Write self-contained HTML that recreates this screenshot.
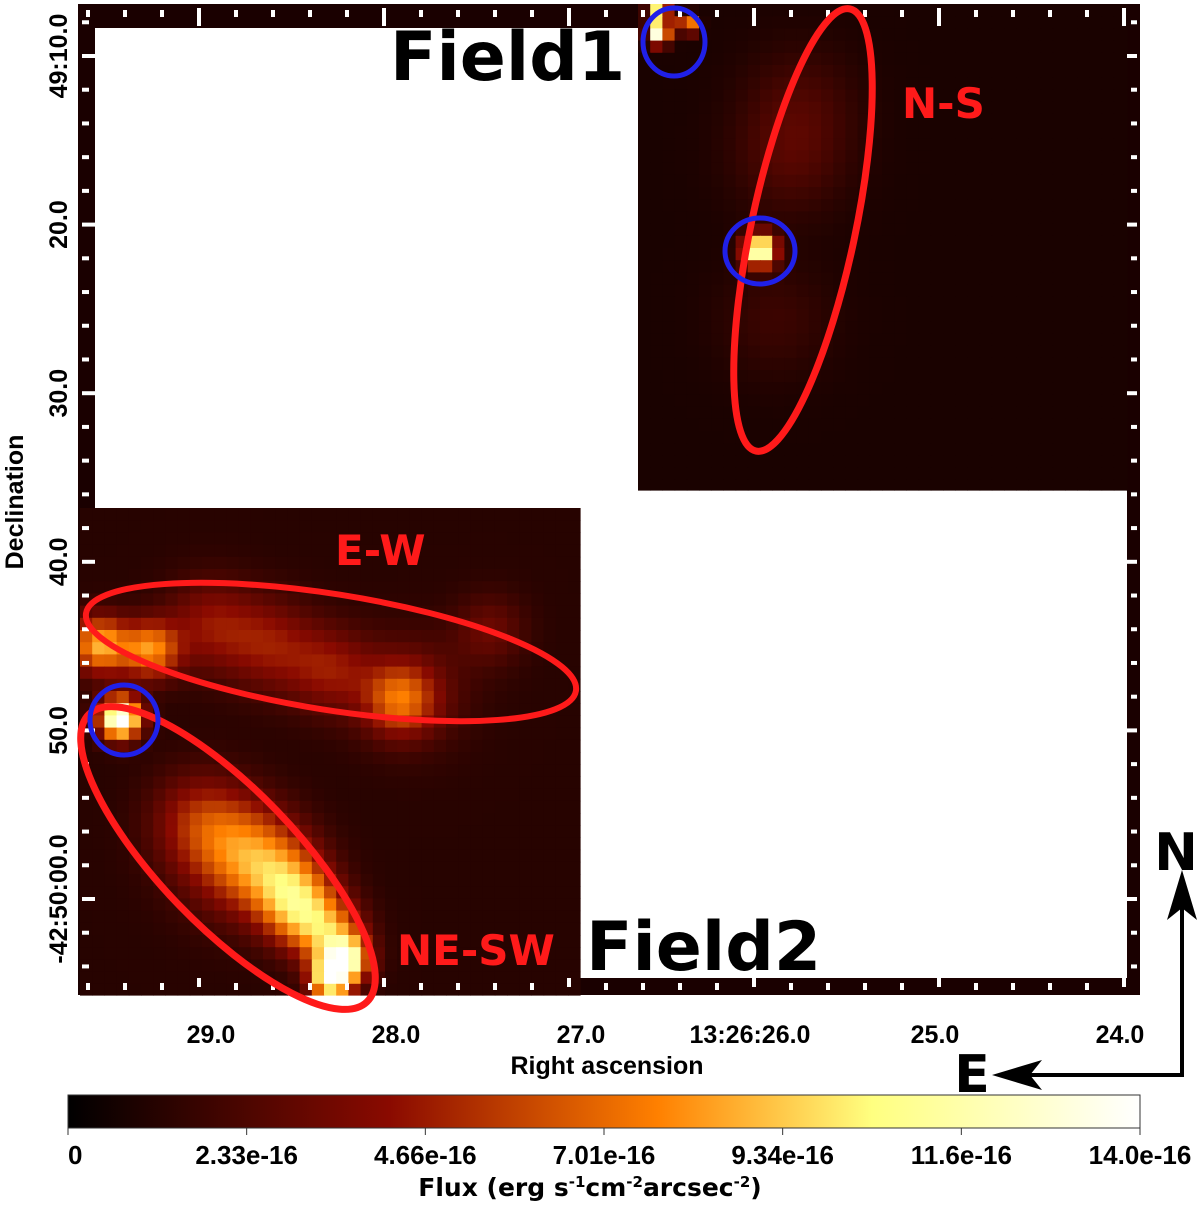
<!DOCTYPE html>
<html><head><meta charset="utf-8"><style>
html,body{margin:0;padding:0;background:#fff;}
svg text{font-family:"Liberation Sans","DejaVu Sans",sans-serif;font-weight:bold;}
</style></head><body>
<svg id="fig" width="1200" height="1205" viewBox="0 0 1200 1205" xmlns="http://www.w3.org/2000/svg">
<defs>
<linearGradient id="heat" x1="0" x2="1" y1="0" y2="0">
<stop offset="0" stop-color="#000000"/><stop offset="0.3" stop-color="#8a0a00"/>
<stop offset="0.55" stop-color="#ff8000"/><stop offset="0.75" stop-color="#ffff80"/>
<stop offset="1" stop-color="#ffffff"/></linearGradient>
</defs>
<rect x="78" y="4" width="1062" height="991" fill="#1a0000"/>
<rect x="95" y="28" width="1032" height="950" fill="#ffffff"/>
<g id="cells"></g>
<g id="ticks"></g>
<g fill="none" stroke="#ff1a1a">
<ellipse cx="803" cy="230" rx="52" ry="226" transform="rotate(12 803 230)" stroke-width="7"/>
<ellipse cx="331" cy="652" rx="248" ry="58" transform="rotate(9 331 652)" stroke-width="6"/>
<ellipse cx="228" cy="858" rx="200" ry="68" transform="rotate(46 228 858)" stroke-width="7"/>
</g>
<g fill="none" stroke="#2020e8" stroke-width="5">
<ellipse cx="674" cy="42" rx="31" ry="34"/>
<ellipse cx="760" cy="251" rx="35" ry="33"/>
<ellipse cx="124" cy="720" rx="34" ry="35"/>
</g>
<text x="390" y="80" font-size="68" fill="#000" style="font-family:'DejaVu Sans',sans-serif">Field1</text>
<text x="586" y="970" font-size="68" fill="#000" style="font-family:'DejaVu Sans',sans-serif">Field2</text>
<text x="902" y="118" font-size="42" fill="#ff1a1a" style="font-family:'DejaVu Sans',sans-serif">N-S</text>
<text x="335" y="565" font-size="42" fill="#ff1a1a" style="font-family:'DejaVu Sans',sans-serif">E-W</text>
<text x="397" y="965" font-size="42" fill="#ff1a1a" style="font-family:'DejaVu Sans',sans-serif">NE-SW</text>
<g id="ticklabels" font-size="25" fill="#000"></g>
<text x="607" y="1074" font-size="25" text-anchor="middle">Right ascension</text>
<text transform="translate(23 502) rotate(-90)" font-size="25" text-anchor="middle">Declination</text>
<g stroke="#000" stroke-width="4" fill="#000">
<polyline points="1182,900 1182,1075 1015,1075" fill="none"/>
<polygon points="1182,870 1167,920 1182,908 1197,920" stroke="none"/>
<polygon points="992,1075 1042,1060 1030,1075 1042,1090" stroke="none"/>
</g>
<text x="1176" y="870" font-size="52" text-anchor="middle" style="font-family:'DejaVu Sans',sans-serif">N</text>
<text x="972" y="1092" font-size="52" text-anchor="middle" style="font-family:'DejaVu Sans',sans-serif">E</text>
<rect x="68" y="1095" width="1072" height="33" fill="url(#heat)" stroke="#333" stroke-width="1"/>
<g id="cbar"></g>
<text x="590" y="1196" font-size="25" text-anchor="middle" style="font-family:'DejaVu Sans',sans-serif">Flux (erg s<tspan font-size="15" dy="-9">-1</tspan><tspan dy="9">cm</tspan><tspan font-size="15" dy="-9">-2</tspan><tspan dy="9">arcsec</tspan><tspan font-size="15" dy="-9">-2</tspan><tspan dy="9">)</tspan></text>
</svg>
<script>
// Blob model data (Field 1 and Field 2 emission components)
const blobX = [659, 659, 688, 760, 800, 790, 775, 120, 100, 150, 210, 270, 330, 400, 410, 490, 200, 250, 285, 300, 330, 345, 330, 230];
const blobY = [15, 35, 25, 250, 100, 160, 320, 718, 645, 650, 625, 645, 670, 700, 690, 630, 820, 850, 880, 910, 935, 960, 980, 870];
const blobAmp = [1.3, 1.3, 1.0, 1.3, 0.12, 0.15, 0.1, 1.4, 0.75, 0.65, 0.3, 0.3, 0.3, 0.45, 0.2, 0.2, 0.35, 0.4, 0.45, 0.55, 0.55, 1.0, 0.9, 0.2];
const blobSig = [7, 7, 6, 11, 40, 40, 40, 14, 20, 20, 32, 32, 30, 24, 40, 25, 34, 34, 30, 26, 24, 16, 14, 40];
const panelX0 = [638, 80];
const panelY0 = [4, 508];
const panelX1 = [1127, 580];
const panelY1 = [490, 995];
const panelBg = [0.08, 0.12];
const cbTicks = ["0", "2.33e-16", "4.66e-16", "7.01e-16", "9.34e-16", "11.6e-16", "14.0e-16"];
const raLabels = ["29.0", "28.0", "27.0", "13:26:26.0", "25.0", "24.0"];
const decLabels = ["49:10.0", "20.0", "30.0", "40.0", "50.0", "-42:50:00.0"];
const vmax = 1.4;

const NS = "http://www.w3.org/2000/svg";
const stops = [[0,[0,0,0]],[0.3,[138,10,0]],[0.55,[255,128,0]],[0.75,[255,255,128]],[1,[255,255,255]]];
function cmap(t){t=Math.max(0,Math.min(1,t));for(let i=1;i<stops.length;i++){if(t<=stops[i][0]){const a=stops[i-1],b=stops[i];const f=(t-a[0])/(b[0]-a[0]);const c=a[1].map((v,k)=>Math.round(v+(b[1][k]-v)*f));return `rgb(${c[0]},${c[1]},${c[2]})`;}}return "#fff";}
function valueAt(x,y,bg){let v=bg;for(let i=0;i<blobX.length;i++){const dx=x-blobX[i],dy=y-blobY[i];v+=blobAmp[i]*Math.exp(-(dx*dx+dy*dy)/(2*blobSig[i]*blobSig[i]));}return v;}
const cells=document.getElementById("cells");
const cs=12.2;
for(let p=0;p<panelX0.length;p++){
  const g=document.createElementNS(NS,"g");
  
  
  cells.appendChild(g);
  for(let y=panelY0[p];y<panelY1[p]-0.5;y+=cs){
    for(let x=panelX0[p];x<panelX1[p]-0.5;x+=cs){
      const w=Math.min(cs,panelX1[p]-x),h=Math.min(cs,panelY1[p]-y);
      const v=valueAt(x+w/2,y+h/2,panelBg[p]);
      const r=document.createElementNS(NS,"rect");
      
      
      r.setAttribute("x",x.toFixed(1));r.setAttribute("y",y.toFixed(1));
      r.setAttribute("width",(w+0.6).toFixed(1));r.setAttribute("height",(h+0.6).toFixed(1));
      r.setAttribute("fill",cmap(v/vmax));
      g.appendChild(r);
    }
  }
}
// axis ticks
const tk=document.getElementById("ticks");
function line(x1,y1,x2,y2,w){const l=document.createElementNS(NS,"line");


l.setAttribute("x1",x1);l.setAttribute("y1",y1);l.setAttribute("x2",x2);l.setAttribute("y2",y2);l.setAttribute("stroke","#fff");l.setAttribute("stroke-width",w||4);tk.appendChild(l);}
const raX=i=>199+185*i, decY=i=>56+168.6*i;
for(let i=-3;i<=27;i++){const x=199+37*i;if(x<85||x>1132)continue;const major=i%5===0;
  line(x,major?987:983,x,major?978:990);line(x,major?8:10,x,major?26:17);}
for(let i=-1;i<=27;i++){const y=56+33.72*i;if(y<12||y>990)continue;const major=i%5===0;
  line(82,y,major?95:89,y);line(major?1127:1131,y,1137,y);}
const tl=document.getElementById("ticklabels");
raLabels.forEach((s,i)=>{const t=document.createElementNS(NS,"text");


t.setAttribute("x",raX(i)+(i>=3?-4:12));t.setAttribute("y",1043);t.setAttribute("text-anchor","middle");t.textContent=s;tl.appendChild(t);});
decLabels.forEach((s,i)=>{const t=document.createElementNS(NS,"text");


t.setAttribute("transform",`translate(67 ${decY(i)}) rotate(-90)`);t.setAttribute("text-anchor","middle");t.textContent=s;tl.appendChild(t);});
// colorbar
const cb=document.getElementById("cbar");
cbTicks.forEach((s,i)=>{const x=68+1072*i/(cbTicks.length-1);
const l=document.createElementNS(NS,"line");


l.setAttribute("x1",x);l.setAttribute("x2",x);l.setAttribute("y1",1128);l.setAttribute("y2",1135);l.setAttribute("stroke","#333");cb.appendChild(l);
const t=document.createElementNS(NS,"text");


t.setAttribute("x",i===cbTicks.length-1?1140:x);t.setAttribute("y",1164);t.setAttribute("font-size","26");
t.setAttribute("text-anchor",i===0?"start":"middle");t.textContent=s;cb.appendChild(t);});
</script>
</body></html>
